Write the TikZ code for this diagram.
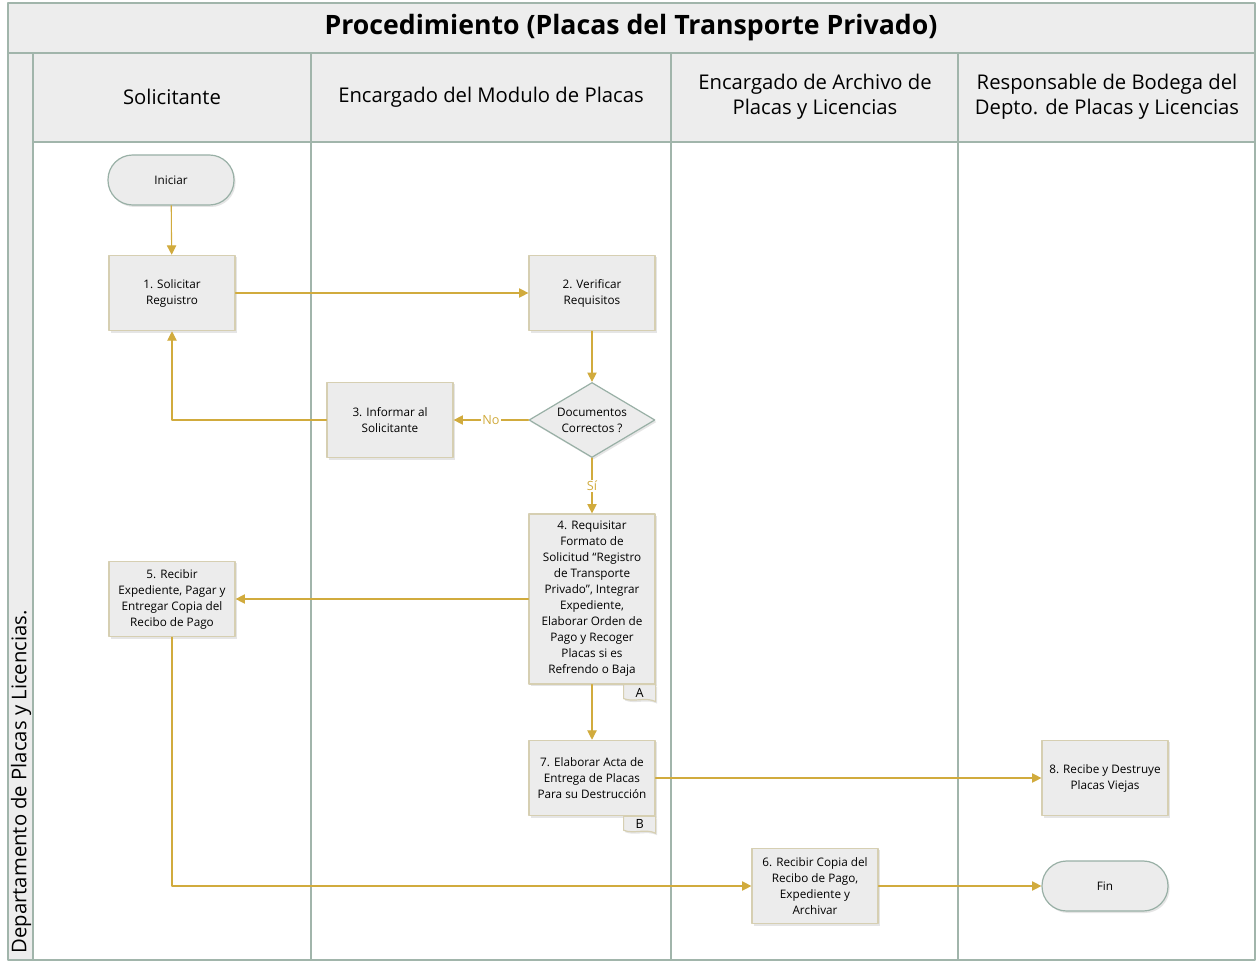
\documentclass[tikz,border=0pt]{standalone}
\usepackage{fontspec}
\setmainfont{Open Sans}
\usetikzlibrary{arrows.meta,shapes.geometric,shadows}
\definecolor{lanegray}{rgb}{0.63,0.71,0.67}
\definecolor{hdrfill}{rgb}{0.93,0.93,0.93}
\definecolor{boxfill}{rgb}{0.925,0.925,0.925}
\definecolor{boxline}{rgb}{0.84,0.81,0.70}
\definecolor{termline}{rgb}{0.60,0.69,0.65}
\definecolor{flowgold}{rgb}{0.82,0.67,0.24}

\tikzset{
	boxshadow/.style={drop shadow={opacity=0.2,shadow xshift=1.2pt,shadow yshift=-1.5pt}},
	proc/.style={draw=boxline,line width=0.9pt,fill=boxfill,boxshadow,minimum width=94.5pt,minimum height=56.5pt,
		align=center,inner sep=1pt,font=\fontsize{8.8}{12}\selectfont},
	term/.style={draw=termline,line width=0.9pt,fill=boxfill,boxshadow,rounded corners=18.5pt,minimum width=94.5pt,
		minimum height=37.5pt,font=\fontsize{8.8}{12}\selectfont},
	decide/.style={diamond,draw=termline,line width=0.9pt,fill=boxfill,boxshadow,aspect=1.68,minimum width=94.5pt,
		minimum height=56.25pt,inner sep=0pt,align=center,font=\fontsize{8.8}{12}\selectfont},
	doctab/.style={draw=boxline,line width=0.9pt,fill=boxfill,boxshadow},
	lane/.style={draw=lanegray,line width=1.1pt},
	hdr/.style={align=center,font=\fontsize{15.2}{19}\selectfont},
	flow/.style={draw=flowgold,line width=0.8pt,-{Triangle[length=7pt,width=7pt]}},
	lbl/.style={fill=white,inner sep=1pt,text=flowgold,font=\fontsize{9.5}{12}\selectfont}
}

\begin{document}
\begin{tikzpicture}[line cap=round,line join=round,x=0.75pt,y=-0.75pt]
	\useasboundingbox (0,0) rectangle (1256,962);
	% lanes
	\fill[white] (8,3) rectangle (1255,960);
	\fill[hdrfill] (8,3) rectangle (1255,53);
	\fill[hdrfill] (8,53) rectangle (33,960);
	\fill[hdrfill] (33,53) rectangle (1255,142);
	\draw[lane] (8,53) -- (1255,53);
	\draw[lane] (33,142) -- (1255,142);
	\draw[lane] (33,53) -- (33,960);
	\foreach \x in {311,671,958}
	\draw[lane] (\x,53) -- (\x,960);
	\draw[lane] (8,3) rectangle (1255,960);
	\node[font=\fontsize{20}{24}\selectfont\bfseries] (title) at (631,28) {Procedimiento (Placas del Transporte Privado)};
	\node[hdr,rotate=90,anchor=west] (dept) at (21,958) {Departamento de Placas y Licencias.};
	\node[hdr] (h1) at (172,97) {Solicitante};
	\node[hdr] (h2) at (491,97) {Encargado del Modulo de Placas};
	\node[hdr] (h3) at (815,97) {Encargado de Archivo de\\Placas y Licencias};
	\node[hdr] (h4) at (1107,97) {Responsable de Bodega del\\Depto. de Placas y Licencias};
	% shapes
	\node[term] (start) at (171,180) {Iniciar};
	\node[proc] (p1) at (172,293) {1. Solicitar\\Reguistro};
	\node[proc] (p2) at (592,293) {2. Verificar\\Requisitos};
	\node[decide] (dec) at (592,420) {Documentos\\Correctos ?};
	\node[proc] (p3) at (390,420) {3. Informar al\\Solicitante};
	\node[proc,minimum height=127.5pt] (p4) at (592,599) {4. Requisitar\\Formato de\\Solicitud “Registro\\de Transporte\\Privado”, Integrar\\Expediente,\\Elaborar Orden de\\Pago y Recoger\\Placas si es\\Refrendo o Baja};
	\node[proc] (p5) at (172,599) {5. Recibir\\Expediente, Pagar y\\Entregar Copia del\\Recibo de Pago};
	\node[proc] (p7) at (592,778) {7. Elaborar Acta de\\Entrega de Placas\\Para su Destrucción};
	\node[proc] (p8) at (1105,778) {8. Recibe y Destruye\\Placas Viejas};
	\node[proc] (p6) at (815,886) {6. Recibir Copia del\\Recibo de Pago,\\Expediente y\\Archivar};
	\node[term] (fin) at (1105,886) {Fin};
	% page tabs
	\draw[doctab] ([shift={(-32,0)}]p4.south east) -- (p4.south east) -- ++(0,17)
		.. controls ++(-10,-5) and ++(10,4) .. ++(-32,-3) -- cycle;
	\node[font=\fontsize{9.5}{10}\selectfont] (tabA) at ([shift={(-16,8)}]p4.south east) {A};
	\draw[doctab] ([shift={(-32,0)}]p7.south east) -- (p7.south east) -- ++(0,17)
		.. controls ++(-10,-5) and ++(10,4) .. ++(-32,-3) -- cycle;
	\node[font=\fontsize{9.5}{10}\selectfont] (tabB) at ([shift={(-16,8)}]p7.south east) {B};
	% flow
	\draw[flow] (start) -- (p1);
	\draw[flow] (p1) -- (p2);
	\draw[flow] (p2) -- (dec);
	\draw[flow] (dec) -- node[lbl] {No} (p3);
	\draw[flow] (p3.west) -| (p1.south);
	\draw[flow] (dec) -- node[lbl] {Sí} (p4);
	\draw[flow] (p4) -- (p5);
	\draw[flow] (p4) -- (p7);
	\draw[flow] (p7) -- (p8);
	\draw[flow] (p5.south) |- (p6.west);
	\draw[flow] (p6) -- (fin);
\end{tikzpicture}
\end{document}
